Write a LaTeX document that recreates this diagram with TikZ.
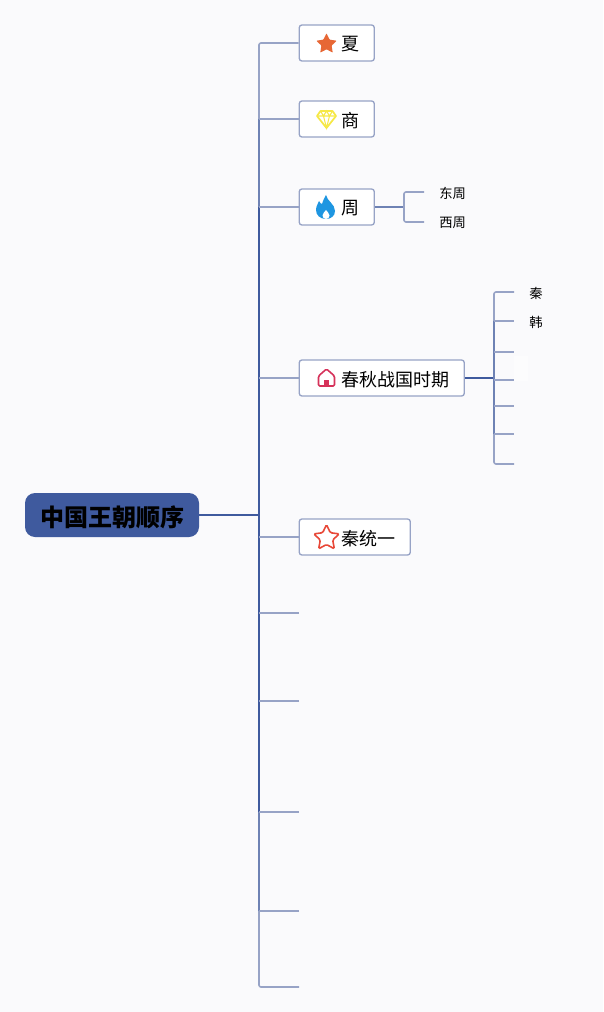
\documentclass[tikz,border=0pt]{standalone}
\usepackage{fontspec}
\setmainfont{Noto Sans CJK SC}
\usepackage{xcolor}
\usetikzlibrary{positioning,shapes.geometric}
\definecolor{mmbg}{RGB}{250,250,252}
\definecolor{mmdeep}{RGB}{63,90,158}
\definecolor{mmmid}{RGB}{110,130,180}
\definecolor{mmpale}{RGB}{151,163,198}
\definecolor{mmorange}{RGB}{231,103,53}
\definecolor{mmyellow}{RGB}{246,232,70}
\definecolor{mmblue}{RGB}{30,150,225}
\definecolor{mmrose}{RGB}{214,50,90}
\definecolor{mmred}{RGB}{232,72,56}
\newcommand{\lowered}[2]{\raisebox{-#1}[\height][\depth]{#2}}
\newcommand{\topictext}[1]{\hspace*{20.25pt}\lowered{1.1pt}{#1}}
\tikzset{
  rootbox/.style={fill=mmdeep, draw=none, rounded corners=7.5pt, minimum width=130.5pt,
                  minimum height=33pt, inner sep=0pt, font=\fontsize{18}{20}\selectfont\bfseries},
  topic/.style={draw=mmpale, fill=white, line width=1pt, rounded corners=2pt, anchor=west,
                minimum height=27pt, inner xsep=11.25pt, inner ysep=0pt,
                font=\fontsize{13.5}{16}\selectfont},
  leaf/.style={anchor=west, inner xsep=11.25pt, inner ysep=0pt, font=\fontsize{10}{12}\selectfont},
  spine/.style={line width=1.6pt, color=mmdeep},
  midline/.style={line width=1.4pt, color=mmmid},
  twig/.style={line width=1.2pt, color=mmpale, rounded corners=1.5pt},
  staricon/.style={star, star points=5, star point ratio=#1, inner sep=0pt},
}
\begin{document}
\begin{tikzpicture}[x=0.75pt,y=-0.75pt]
\fill[mmbg] (0,0) rectangle (603,1012);
\useasboundingbox (0,0) rectangle (603,1012);
% central topic and first level
\node[rootbox] (root) at (112,515) {\lowered{1.5pt}{中国王朝顺序}};
\node[topic] (xia) at (298.6,43) {\topictext{夏}};
\node[topic] (shang) at (298.6,119) {\topictext{商}};
\node[topic] (zhou) at (298.6,207) {\topictext{周}};
\node[topic] (chunqiu) at (298.6,378) {\topictext{春秋战国时期}};
\node[topic] (qin) at (298.6,537) {\topictext{秦统一}};
% free ends of the empty branches
\coordinate (blank1) at (299,613);
\coordinate (blank2) at (299,701);
\coordinate (blank3) at (299,812);
\coordinate (blank4) at (299,911);
\coordinate (blank5) at (299,987);
\coordinate (hub) at (259,515);
\coordinate (tr1) at (259,119);
\coordinate (tr2) at (259,207);
\coordinate (tr3) at (259,378);
\coordinate (tr4) at (259,812);
\coordinate (tr5) at (259,911);
% trunk, paler towards its ends
\draw[twig] (xia.west) -| (tr1);
\draw[midline] (tr1) -- (tr2);
\draw[spine] (tr2) -- (tr4);
\draw[midline] (tr4) -- (tr5);
\draw[twig] (tr5) |- (blank5);
\draw[spine] (root.east) -- (hub);
\foreach \t/\n in {tr1/shang,tr2/zhou,tr3/chunqiu}
  \draw[twig] (\t) -- (\n.west);
\draw[twig] (259,537) -- (qin.west);
\foreach \b in {1,2,3,4}
  \draw[twig] (blank\b) -- (blank\b -| hub);
% zhou branch
\node[leaf] (dong) at (424,192) {\lowered{.8pt}{东周}};
\node[leaf] (xi) at (424,222) {\lowered{.8pt}{西周}};
\coordinate (zhouhub) at (404,207);
\draw[midline] (zhou.east) -- (zhouhub);
\draw[twig] (dong.west) -| (zhouhub) |- (xi.west);
% warring states branch
\node[leaf] (qinstate) at (514,292) {\lowered{.8pt}{秦}};
\node[leaf] (han) at (514,321) {\lowered{.8pt}{韩}};
\fill[white!40!mmbg] (514,356) rectangle (528,381);
\coordinate (st3) at (514,352);
\coordinate (st4) at (514,380);
\coordinate (st5) at (514,406);
\coordinate (st6) at (514,434);
\coordinate (st7) at (514,464);
\coordinate (cqhub) at (494,378);
\draw[spine] (chunqiu.east) -- (cqhub);
\draw[twig] (qinstate.west) -| (cqhub |- han.west);
\draw[midline] (cqhub |- han.west) -- (cqhub |- st6);
\draw[twig] (cqhub |- st6) |- (st7);
\draw[twig] (cqhub |- han.west) -- (han.west);
\foreach \s in {3,4,5,6}
  \draw[twig] (cqhub |- st\s) -- (st\s);
% icons
\node[staricon=2, minimum size=16pt, fill=mmorange, rounded corners=.5pt] (xiaicon) at (326.5,44) {};
\begin{scope}[shift={(326.5,119)}]
  \draw[mmyellow, line width=1.3pt, line join=round] (-6,-8) -- (6,-8) -- (9.5,-3) -- (0,9) -- (-9.5,-3) -- cycle;
  \draw[mmyellow, line width=.8pt] (-9.5,-3) -- (9.5,-3) (-3,-3) -- (0,9) -- (3,-3) (-6,-8) -- (-3,-3) -- (0,-8) -- (3,-3) -- (6,-8);
\end{scope}
\fill[mmblue, shift={(326,207)}] (0,-12) .. controls (1,-6) and (9,-3) .. (9,4)
  .. controls (9,9) and (5,12) .. (0,12) .. controls (-6,12) and (-10,8) .. (-10,3)
  .. controls (-10,-1) and (-8,-3) .. (-7,-6) .. controls (-6,-4) and (-5,-3) .. (-4,-3)
  .. controls (-3,-6) and (-2,-9) .. (0,-12) -- cycle;
\fill[white, shift={(326,207)}] (0,3) .. controls (1,5) and (3.5,6) .. (3.5,8.5)
  .. controls (3.5,10.5) and (2,12) .. (0,12) .. controls (-2,12) and (-3.5,10.5) .. (-3.5,8.5)
  .. controls (-3.5,6) and (-1,5) .. (0,3) -- cycle;
\begin{scope}[shift={(326.5,378)}]
  \draw[mmrose, line width=1.2pt, line join=round, rounded corners=1pt] (-8,-2) -- (0,-9) -- (8,-2) -- (8,8) -- (-8,8) -- cycle;
  \fill[mmrose] (-2.5,8) -- (-2.5,2) -- (2.5,2) -- (2.5,8) -- cycle;
\end{scope}
\node[staricon=2.05, minimum size=20pt, draw=mmred, fill=white, line width=1.2pt, rounded corners=1pt] (qinicon) at (326.5,538) {};
\end{tikzpicture}
\end{document}
